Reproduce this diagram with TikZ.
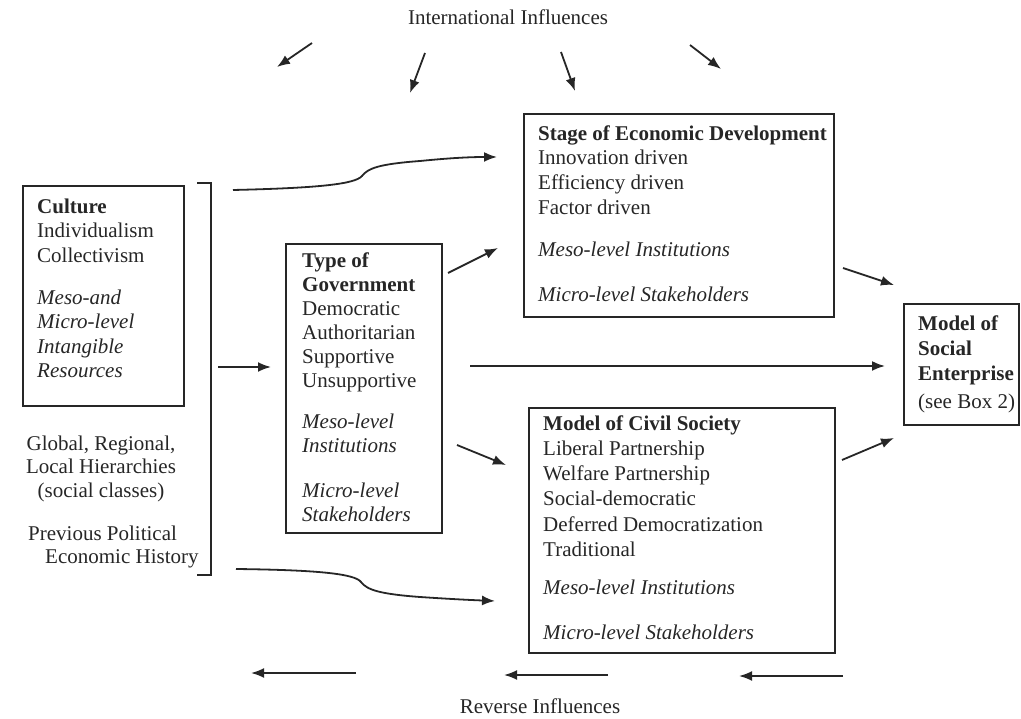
\documentclass[tikz,border=0pt]{standalone}
\usepackage{fontspec}
\setmainfont{Liberation Serif}
\usetikzlibrary{arrows.meta}
\definecolor{ink}{rgb}{0.15,0.15,0.15}
\begin{document}
\begin{tikzpicture}[x=1pt,y=-1pt,
  frame/.style={draw=ink, line width=1.9pt, inner sep=0pt, anchor=north west},
  txt/.style={anchor=north west, inner sep=0pt, align=left, text=ink,
              font=\fontsize{21}{24.6}\selectfont},
  ctxt/.style={txt, anchor=north, align=center},
  arr/.style={draw=ink, line width=1.8pt, -{Latex[length=13pt,width=10pt]}}]
\useasboundingbox (0,0) rectangle (1021,719);

% ---- boxes ----
\node[frame, minimum width=161pt, minimum height=220pt] (culture) at (22,185) {};
\node[frame, minimum width=156pt, minimum height=289pt] (gov) at (285,243) {};
\node[frame, minimum width=310pt, minimum height=203pt] (stage) at (523,113) {};
\node[frame, minimum width=306pt, minimum height=245pt] (civil) at (528,407) {};
\node[frame, minimum width=115pt, minimum height=121pt] (se) at (903,303) {};

% ---- box contents ----
\node[txt] (culturetxt) at (37,195.8)
  {\strut\textbf{Culture}\\Individualism\\Collectivism\\[17pt]
   \textit{Meso-and}\\\textit{Micro-level}\\\textit{Intangible}\\\textit{Resources}};
\node[txt, font=\fontsize{21}{24}\selectfont] (govtxt) at (302,250.2)
  {\strut\textbf{Type of}\\\textbf{Government}\\Democratic\\Authoritarian\\Supportive\\Unsupportive\\[17pt]
   \textit{Meso-level}\\\textit{Institutions}\\[21pt]
   \textit{Micro-level}\\\textit{Stakeholders}};
\node[txt] (stagetxt) at (538,122.8)
  {\strut\textbf{Stage of Economic Development}\\Innovation driven\\Efficiency driven\\Factor driven\\[18pt]
   \textit{Meso-level Institutions}\\[20pt]
   \textit{Micro-level Stakeholders}};
\node[txt, font=\fontsize{21}{25.2}\selectfont] (civiltxt) at (543,412.4)
  {\strut\textbf{Model of Civil Society}\\Liberal Partnership\\Welfare Partnership\\Social-democratic\\
   Deferred Democratization\\Traditional\\[13pt]
   \textit{Meso-level Institutions}\\[20pt]
   \textit{Micro-level Stakeholders}};
\node[txt, font=\fontsize{21}{25}\selectfont] (setxt) at (918,312.5)
  {\strut\textbf{Model of}\\\textbf{Social}\\\textbf{Enterprise}\\[3pt](see Box 2)};

% ---- context texts ----
\node[ctxt, font=\fontsize{21}{23.6}\selectfont] (hier) at (101,433.5)
  {\strut Global, Regional,\\Local Hierarchies\\(social classes)};
\node[txt, font=\fontsize{21}{23}\selectfont] (hist) at (28,523.9)
  {\strut Previous Political\\\hspace*{17pt}Economic History};
\node[anchor=base, inner sep=0pt, text=ink, font=\fontsize{21}{24}\selectfont] (intl) at (508,25)
  {International Influences};
\node[anchor=base, inner sep=0pt, text=ink, font=\fontsize{21}{24}\selectfont] (rev) at (540,713)
  {Reverse Influences};

% ---- bracket grouping the context ----
\draw[ink, line width=1.9pt] (197,183) -- (211,183) -- (211,575) -- (197,575);

% ---- connector end points ----
\coordinate (brk) at (218,367);   \coordinate (govin) at (271,367);
\coordinate (g1) at (448,273);    \coordinate (s1) at (498,248);
\coordinate (g2) at (457,445);    \coordinate (c1) at (506,465);
\coordinate (g3) at (470,366);    \coordinate (e1) at (885,366);
\coordinate (s2) at (843,268);    \coordinate (e2) at (894,285);
\coordinate (c2) at (842,460);    \coordinate (e3) at (894,438);
\coordinate (ctop) at (233,190);  \coordinate (stin) at (497,157);
\coordinate (cbot) at (236,569);  \coordinate (cvin) at (495,601);
\coordinate (i1a) at (312,43);    \coordinate (i1b) at (277,67);
\coordinate (i2a) at (425,53);    \coordinate (i2b) at (410,93);
\coordinate (i3a) at (561,52);    \coordinate (i3b) at (575,91);
\coordinate (i4a) at (690,45);    \coordinate (i4b) at (721,69);
\coordinate (r1a) at (356,673);   \coordinate (r1b) at (251,673);
\coordinate (r2a) at (608,675);   \coordinate (r2b) at (504,675);
\coordinate (r3a) at (843,676);   \coordinate (r3b) at (739,676);

% ---- connectors ----
\draw[arr] (brk) -- (govin);
\draw[arr] (g1) -- (s1);
\draw[arr] (g2) -- (c1);
\draw[arr] (g3) -- (e1);
\draw[arr] (s2) -- (e2);
\draw[arr] (c2) -- (e3);
\draw[arr] (ctop) .. controls (320,188) and (355,184) .. (362,176)
              .. controls (368,168) and (380,164) .. (420,161)
              .. controls (450,158) and (470,157) .. (stin);
\draw[arr] (cbot) .. controls (320,570) and (355,574) .. (361,582)
              .. controls (367,590) and (380,594) .. (420,597)
              .. controls (450,599) and (470,600) .. (cvin);
\draw[arr] (i1a) -- (i1b);
\draw[arr] (i2a) -- (i2b);
\draw[arr] (i3a) -- (i3b);
\draw[arr] (i4a) -- (i4b);
\draw[arr] (r1a) -- (r1b);
\draw[arr] (r2a) -- (r2b);
\draw[arr] (r3a) -- (r3b);
\end{tikzpicture}
\end{document}
